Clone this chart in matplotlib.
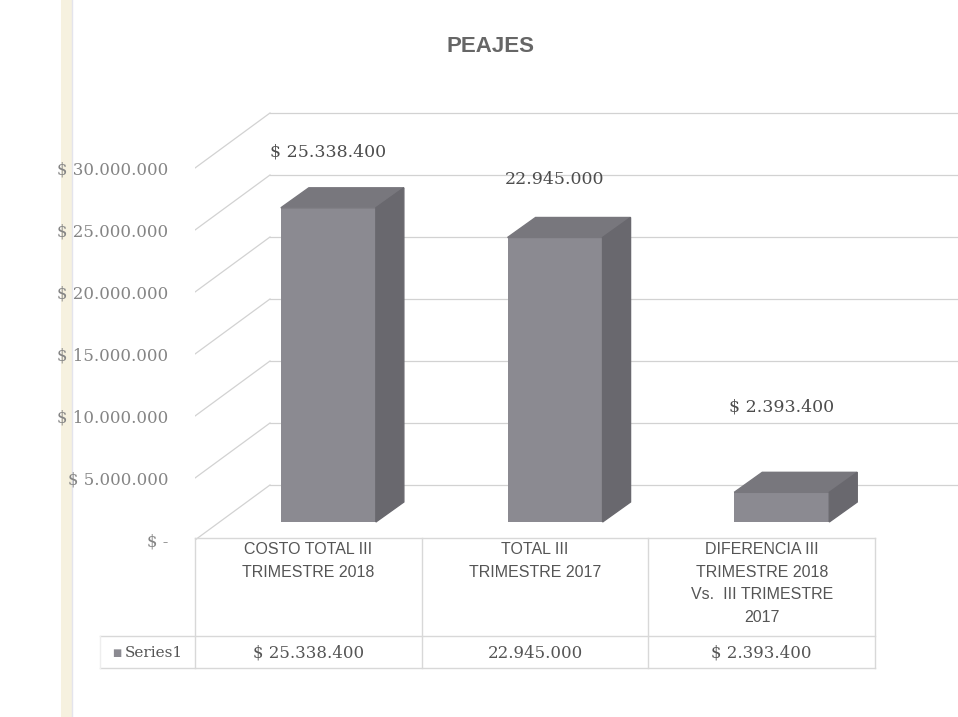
import numpy as np
import matplotlib.pyplot as plt
from matplotlib.patches import Polygon
from matplotlib.lines import Line2D
from matplotlib.ticker import FuncFormatter

# data
title = "PEAJES"
categories = ["COSTO TOTAL III\nTRIMESTRE 2018",
              "TOTAL III\nTRIMESTRE 2017",
              "DIFERENCIA III\nTRIMESTRE 2018\nVs.  III TRIMESTRE\n2017"]
values = [25338400, 22945000, 2393400]
value_labels = ["$ 25.338.400", "22.945.000", "$ 2.393.400"]
series_name = "Series1"
y_ticks = [0, 5000000, 10000000, 15000000, 20000000, 25000000, 30000000]

W, H = 958, 717
fig = plt.figure(figsize=(W / 100, H / 100), dpi=100)


def fx(px):
    return px / W


def fy(py):
    return 1 - py / H


def peso(v, pos=None):
    if v == 0:
        return "$ -"
    return "$ " + f"{int(v):,}".replace(",", ".")


# plot area (front plane: x=-0.5 at px 195, y=0 at px 540)
col_px = 226.7      # px per category
mil_px = 12.4       # px per million
left_px, right_px, top_px, bottom_px = 195, 958, 95, 548
ax = fig.add_axes([fx(left_px), fy(bottom_px), (right_px - left_px) / W, (bottom_px - top_px) / H])
ax.set_xlim(-0.5, -0.5 + (right_px - left_px) / col_px)
ax.set_ylim(-(bottom_px - 540) / mil_px * 1e6, (540 - top_px) / mil_px * 1e6)
ax.patch.set_visible(False)
for s in ax.spines.values():
    s.set_visible(False)
ax.set_xticks([])

# depth of the 3d box
DX = 75 / col_px
DY = 55 / mil_px * 1e6
grid_c = "#d2d2d2"
x_end = ax.get_xlim()[1]
for v in y_ticks:
    ax.plot([-0.5 + DX, x_end], [v + DY, v + DY], color=grid_c, lw=0.9, zorder=1)
    ax.plot([-0.5, -0.5 + DX], [v, v + DY], color=grid_c, lw=0.9, zorder=1)

# bars
fdx, fdy = 20 / col_px, 18 / mil_px * 1e6
ddx, ddy = 28 / col_px, 20 / mil_px * 1e6
bw = 95 / col_px
front_c, top_c, side_c = "#8b8a91", "#78777d", "#69686e"
x = np.arange(len(values))
ax.bar(x + fdx, values, width=bw, bottom=fdy, color=front_c, zorder=3)
for xi, v in zip(x, values):
    x0, x1 = xi + fdx - bw / 2, xi + fdx + bw / 2
    top = v + fdy
    ax.add_patch(Polygon([(x0, top), (x1, top), (x1 + ddx, top + ddy), (x0 + ddx, top + ddy)],
                         closed=True, color=top_c, zorder=3))
    ax.add_patch(Polygon([(x1, fdy), (x1, top), (x1 + ddx, top + ddy), (x1 + ddx, fdy + ddy)],
                         closed=True, color=side_c, zorder=3))

label_lift = [5.95e6, 6.1e6, 8.3e6]
for xi, v, lab, lift in zip(x, values, value_labels, label_lift):
    ax.text(xi + fdx, v + lift, lab, ha="center", va="center", fontsize=12.5,
            family="DejaVu Serif", color="#4d4d4d", zorder=4)

ax.set_yticks(y_ticks)
ax.yaxis.set_major_formatter(FuncFormatter(peso))
ax.tick_params(axis="y", length=0, pad=19, labelsize=12, labelcolor="#858585")
for t in ax.get_yticklabels():
    t.set_family("DejaVu Serif")

# title
fig.text(fx(491), fy(47), title, ha="center", va="center", fontsize=16,
         fontweight="bold", color="#666666", family="Liberation Sans")

# data table
ax_t = fig.add_axes([fx(100), fy(668), 775 / W, 130 / H])
ax_t.set_xlim(-0.5 - 95 / col_px, -0.5 + 680 / col_px)
ax_t.set_ylim(130, 0)
ax_t.axis("off")
tc = "#d8d8d8"
ax_t.plot([-0.5, 2.5], [0, 0], color=tc, lw=1, clip_on=False)
ax_t.plot([-0.919, 2.5], [98, 98], color=tc, lw=1, clip_on=False)
ax_t.plot([-0.919, 2.5], [130, 130], color=tc, lw=1, clip_on=False)
ax_t.plot([-0.919, -0.919], [98, 130], color="#eeeeee", lw=1, clip_on=False)
for xb in [-0.5, 0.5, 1.5, 2.5]:
    ax_t.plot([xb, xb], [0, 130], color=tc, lw=1, clip_on=False)

for i, cat in enumerate(categories):
    ax_t.text(i, 4, cat, ha="center", va="top", fontsize=11.5, linespacing=1.63,
              color="#555555", family="Liberation Sans")
for i, lab in enumerate(value_labels):
    ax_t.text(i, 115, lab, ha="center", va="center", fontsize=12,
              family="DejaVu Serif", color="#555555")
ax_t.text(-0.5 - 83 / col_px, 115, "\u25a0", ha="left", va="center", fontsize=7,
          color="#8b8a91", family="DejaVu Sans")
ax_t.text(-0.5 - 70 / col_px, 115, series_name, ha="left", va="center", fontsize=11,
          color="#555555", family="DejaVu Serif")

# scan margin band, behind the chart
fig.add_artist(Line2D([fx(66), fx(66)], [0, 1], color="#f6f1df", lw=8,
                      transform=fig.transFigure, zorder=-2))
fig.add_artist(Line2D([fx(72), fx(72)], [0, 1], color="#e4e4ec", lw=1,
                      transform=fig.transFigure, zorder=-2))

fig.savefig("out.png", dpi=100)
